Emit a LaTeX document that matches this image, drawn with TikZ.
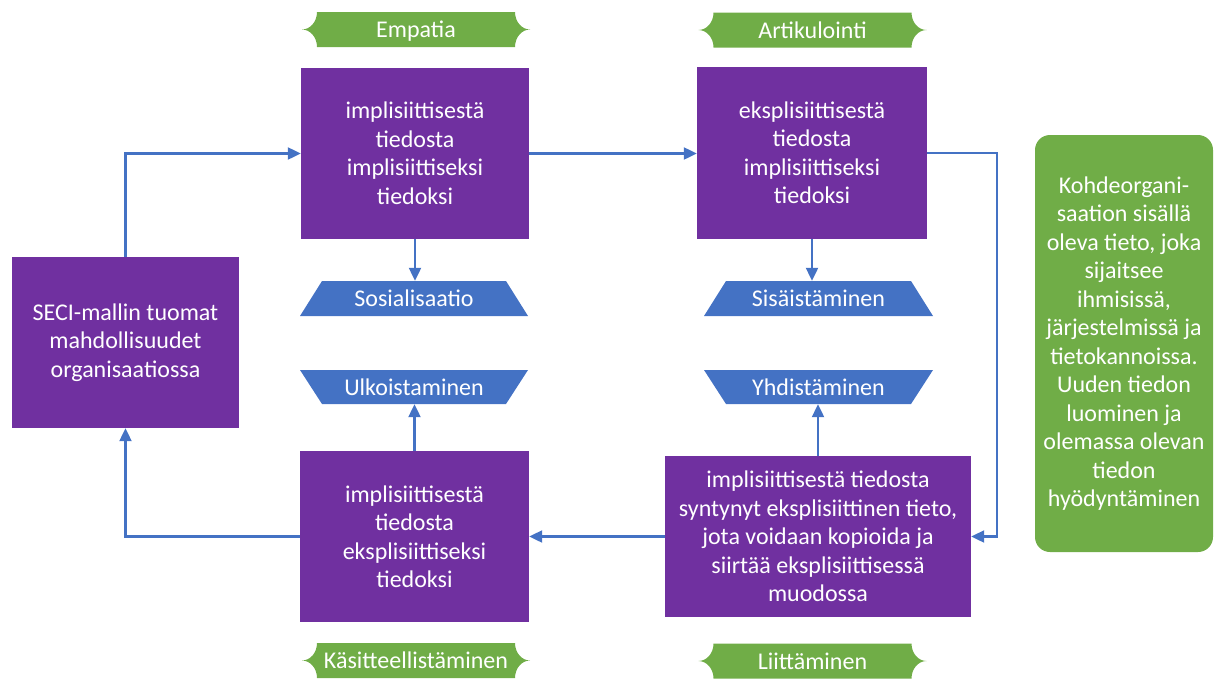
\documentclass[tikz,border=0pt]{standalone}
\usepackage{fontspec}
\setmainfont{Carlito}
\usetikzlibrary{arrows.meta,calc}
\definecolor{purp}{HTML}{7030A0}
\definecolor{blu}{HTML}{4472C4}
\definecolor{grn}{HTML}{70AD47}
\begin{document}
\begin{tikzpicture}[x=1pt,y=-1pt,
  txt/.style={text=white,align=center,inner sep=0pt,font=\fontsize{24}{28.5}\selectfont},
  oneline/.style={txt,text height=20pt,text depth=4pt},
  purplebox/.style={txt,fill=purp},
  conn/.style={draw=blu,line width=2.2pt,-{Triangle[length=13pt,width=12pt]}},
  banner/.pic={\fill[grn] (-99,-17.5) -- (99,-17.5)
      .. controls (99,-7.8) and (105.7,0) .. (114,0)
      .. controls (105.7,0) and (99,7.8) .. (99,17.5)
      -- (-99,17.5)
      .. controls (-99,7.8) and (-105.7,0) .. (-114,0)
      .. controls (-105.7,0) and (-99,-7.8) .. (-99,-17.5) -- cycle;},
]
\useasboundingbox (0,0) rectangle (1222,680);

% purple boxes
\node[purplebox,minimum width=228pt,minimum height=171pt] (A) at (415,153.5)
  {implisiittisestä\\tiedosta\\implisiittiseksi\\tiedoksi};
\node[purplebox,minimum width=230pt,minimum height=172pt] (B) at (812,153)
  {eksplisiittisestä\\tiedosta\\implisiittiseksi\\tiedoksi};
\node[purplebox,minimum width=227pt,minimum height=171pt] (C) at (125.5,342.5)
  {SECI-mallin tuomat\\mahdollisuudet\\organisaatiossa};
\node[purplebox,minimum width=229pt,minimum height=171pt] (D) at (414.5,536.5)
  {implisiittisestä\\tiedosta\\eksplisiittiseksi\\tiedoksi};
\node[purplebox,minimum width=306pt,minimum height=161pt] (E) at (818,536.5)
  {implisiittisestä tiedosta\\syntynyt eksplisiittinen tieto,\\jota voidaan kopioida ja\\siirtää eksplisiittisessä\\muodossa};

% green info box
\node[txt,fill=grn,rounded corners=15pt,minimum width=178pt,minimum height=417pt] (G) at (1124,343.5)
  {Kohdeorgani-\\saation sisällä\\oleva tieto, joka\\sijaitsee\\ihmisissä,\\järjestelmissä ja\\tietokannoissa.\\Uuden tiedon\\luominen ja\\olemassa olevan\\tiedon\\hyödyntäminen};

% blue trapezoids
\fill[blu] (300,316) -- (528,316) -- (506,281) -- (322,281) -- cycle;
\node[oneline,minimum width=228pt,minimum height=35pt] (S1) at (414,298.5) {Sosialisaatio};
\fill[blu] (300,370) -- (528,370) -- (506,404) -- (322,404) -- cycle;
\node[oneline,minimum width=228pt,minimum height=34pt] (U) at (414,387) {Ulkoistaminen};
\fill[blu] (704,316) -- (933,316) -- (911,281) -- (726,281) -- cycle;
\node[oneline,minimum width=229pt,minimum height=35pt] (S2) at (818.5,298.5) {Sisäistäminen};
\fill[blu] (704,370) -- (933,370) -- (911,404) -- (726,404) -- cycle;
\node[oneline,minimum width=229pt,minimum height=34pt] (Y) at (818.5,387) {Yhdistäminen};

% green banners
\pic at (416,29.5) {banner};
\node[oneline] (N1) at (416,29.5) {Empatia};
\pic at (812.5,30) {banner};
\node[oneline] (N2) at (812.5,30) {Artikulointi};
\pic at (416,660.5) {banner};
\node[oneline] (N3) at (416,660.5) {Käsitteellistäminen};
\pic at (812.5,661) {banner};
\node[oneline] (N4) at (812.5,661) {Liittäminen};

% connectors
\coordinate (r) at (997,153);
\draw[conn] (C.north) |- (A.west);
\draw[conn] (A.east) -- (A.east -| B.west);
\draw[conn] (B.east) -- (B.east -| r) |- (E.east);
\draw[conn] (E.west) -- (E.west -| D.east);
\draw[conn] (D.west) -| (C.south);
\draw[conn] (A.south) -- (A.south |- S1.north);
\draw[conn] (B.south) -- (B.south |- S2.north);
\draw[conn] (D.north) -- (D.north |- U.south);
\draw[conn] (E.north) -- (E.north |- Y.south);
\end{tikzpicture}
\end{document}
